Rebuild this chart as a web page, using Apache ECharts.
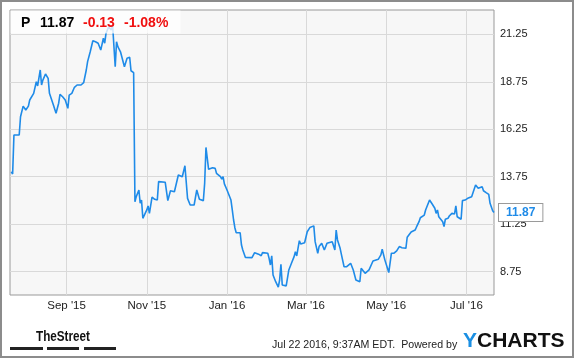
<!DOCTYPE html>
<html>
<head>
<meta charset="utf-8">
<script src="https://cdn.jsdelivr.net/npm/echarts@6/dist/echarts.min.js"></script>
<style>
html,body{margin:0;padding:0;background:#fff;}
#c{width:575px;height:358px;}
</style>
</head>
<body>
<div id="c"></div>
<script>
const dates = [
'2015-07-21','2015-07-22','2015-07-23','2015-07-27','2015-07-28','2015-07-29','2015-07-30','2015-08-01','2015-08-03','2015-08-04',
'2015-08-05','2015-08-07','2015-08-09','2015-08-10','2015-08-12','2015-08-13','2015-08-14','2015-08-16','2015-08-18','2015-08-19',
'2015-08-22','2015-08-24','2015-08-26','2015-08-27','2015-08-29','2015-08-31','2015-09-02','2015-09-03','2015-09-05','2015-09-07',
'2015-09-09','2015-09-10','2015-09-12','2015-09-14','2015-09-16','2015-09-17','2015-09-19','2015-09-21','2015-09-23','2015-09-25',
'2015-09-27','2015-09-29','2015-09-30','2015-10-01','2015-10-03','2015-10-05','2015-10-06','2015-10-08','2015-10-09','2015-10-10',
'2015-10-12','2015-10-13','2015-10-15','2015-10-17','2015-10-19','2015-10-20','2015-10-22','2015-10-23','2015-10-24','2015-10-26',
'2015-10-27','2015-10-28','2015-10-29','2015-11-01','2015-11-02','2015-11-03','2015-11-05','2015-11-07','2015-11-09','2015-11-10',
'2015-11-15','2015-11-17','2015-11-19','2015-11-22','2015-11-23','2015-11-25','2015-11-28','2015-11-30','2015-12-01','2015-12-02',
'2015-12-04','2015-12-07','2015-12-09','2015-12-10','2015-12-11','2015-12-14','2015-12-15','2015-12-16','2015-12-18','2015-12-21',
'2015-12-23','2015-12-24','2015-12-27','2015-12-28','2015-12-29','2015-12-30','2016-01-01','2016-01-04','2016-01-05','2016-01-06',
'2016-01-07','2016-01-08','2016-01-11','2016-01-12','2016-01-13','2016-01-15','2016-01-20','2016-01-22','2016-01-25','2016-01-26',
'2016-01-27','2016-01-28','2016-02-01','2016-02-02','2016-02-03','2016-02-04','2016-02-05','2016-02-07','2016-02-09','2016-02-10',
'2016-02-11','2016-02-12','2016-02-15','2016-02-16','2016-02-17','2016-02-18','2016-02-19','2016-02-21','2016-02-22','2016-02-23',
'2016-02-25','2016-02-26','2016-02-29','2016-03-02','2016-03-03','2016-03-04','2016-03-07','2016-03-08','2016-03-10','2016-03-11',
'2016-03-13','2016-03-14','2016-03-15','2016-03-17','2016-03-18','2016-03-21','2016-03-22','2016-03-23','2016-03-24','2016-03-25',
'2016-03-27','2016-03-28','2016-03-29','2016-03-30','2016-04-01','2016-04-04','2016-04-06','2016-04-08','2016-04-11','2016-04-12',
'2016-04-13','2016-04-15','2016-04-18','2016-04-19','2016-04-21','2016-04-25','2016-04-26','2016-04-27','2016-04-28','2016-04-30',
'2016-05-02','2016-05-03','2016-05-05','2016-05-07','2016-05-09','2016-05-11','2016-05-13','2016-05-16','2016-05-17','2016-05-18',
'2016-05-20','2016-05-23','2016-05-24','2016-05-26','2016-05-27','2016-05-30','2016-05-31','2016-06-03','2016-06-05','2016-06-07',
'2016-06-08','2016-06-09','2016-06-10','2016-06-13','2016-06-14','2016-06-15','2016-06-17','2016-06-18','2016-06-20','2016-06-22',
'2016-06-23','2016-06-24','2016-06-27','2016-06-28','2016-06-30','2016-07-02','2016-07-05','2016-07-06','2016-07-08','2016-07-10',
'2016-07-11','2016-07-13','2016-07-14','2016-07-16','2016-07-18','2016-07-19','2016-07-21','2016-07-22'
];
const prices = [
14.01,13.89,15.95,15.95,16.91,17.00,17.47,17.26,17.47,17.79,
17.79,18.14,18.75,18.53,19.37,18.58,18.84,19.16,18.93,18.14,
17.53,17.09,17.62,18.09,17.96,17.79,17.35,18.05,18.14,18.46,
18.58,18.53,18.58,18.70,19.37,19.81,20.33,20.91,20.86,20.78,
20.42,21.04,20.78,21.30,21.65,21.48,21.74,19.54,20.86,20.60,
20.33,20.25,19.54,19.99,20.04,19.33,19.23,12.43,12.70,13.05,
12.35,12.52,11.56,12.00,12.21,11.82,12.67,12.56,12.52,13.49,
13.46,12.49,13.01,12.96,12.91,13.84,13.75,14.33,14.31,12.61,
12.26,12.26,13.05,12.95,12.56,12.49,13.40,15.29,14.14,14.22,
14.19,13.93,13.75,13.63,13.75,13.37,13.05,12.52,12.00,11.47,
11.05,10.80,10.80,10.15,9.89,9.50,9.49,9.75,9.67,9.68,
9.59,9.75,9.72,9.45,9.10,9.58,8.57,8.22,7.93,8.31,
9.14,8.05,8.00,7.96,8.84,8.87,9.19,9.54,9.80,9.58,
10.38,10.21,10.27,10.85,10.89,11.07,11.16,10.33,9.72,10.07,
10.24,10.33,9.89,10.24,10.27,10.33,10.24,9.89,10.94,10.42,
9.98,9.65,9.58,9.01,9.01,9.19,8.84,8.31,8.22,8.93,
8.98,8.66,8.84,8.93,9.31,9.40,9.46,9.63,9.93,9.37,
8.93,8.70,9.72,9.72,9.84,10.07,10.01,9.98,10.56,10.59,
10.84,10.94,11.09,11.38,11.59,11.73,12.00,12.52,12.31,12.09,
11.82,12.00,11.64,11.38,11.12,11.51,11.56,11.68,11.82,11.79,
12.21,11.64,11.51,12.49,12.52,12.61,12.70,12.63,13.31,13.14,
13.10,13.22,13.01,12.91,12.82,12.35,11.96,11.87
];
const yTicks = [8.75, 11.25, 13.75, 16.25, 18.75, 21.25];
const xTicks = ['2015-09-01','2015-11-01','2016-01-01','2016-03-01','2016-05-01','2016-07-01'];
const xTickLabels = ["Sep '15","Nov '15","Jan '16","Mar '16","May '16","Jul '16"];
const xRange = ['2015-07-20', '2016-07-22'];
const header = {symbol: 'P', price: '11.87', change: '-0.13', pct: '-1.08%'};
const stamp = 'Jul 22 2016, 9:37AM EDT.  Powered by';

function toTime(s) {
  const p = s.split('-').map(Number);
  return new Date(p[0], p[1] - 1, p[2]).getTime();
}
const xTickTimes = xTicks.map(toTime);
const lineColor = '#1f8be8';
const chart = echarts.init(document.getElementById('c'), null, {renderer: 'canvas'});
const FONT = '"Liberation Sans", Arial, sans-serif';

function txt(x, y, text, font, fill, sx) {
  return {type: 'text', z: 101, x: x, y: y, scaleX: sx || 1,
    style: {x: 0, y: 0, text: text, font: font, fill: fill, verticalAlign: 'middle', align: 'left'}};
}

chart.setOption({
  animation: false,
  grid: {left: 10, top: 10, right: 81, bottom: 63, show: true, backgroundColor: '#f7f7f7', borderColor: '#999', borderWidth: 1},
  xAxis: {
    type: 'value',
    min: toTime(xRange[0]), max: toTime(xRange[1]),
    axisLine: {show: false},
    axisTick: {show: false, customValues: xTickTimes},
    splitLine: {show: true, lineStyle: {color: '#d9d9d9', width: 1}},
    axisLabel: {
      customValues: xTickTimes,
      margin: 5,
      color: '#222', fontSize: 11.5, fontFamily: FONT,
      formatter: function (v) {
        let best = 0;
        xTickTimes.forEach((t, i) => { if (Math.abs(t - v) < Math.abs(xTickTimes[best] - v)) best = i; });
        return xTickLabels[best];
      }
    }
  },
  yAxis: {
    type: 'value', position: 'right',
    min: 7.52, max: 22.53,
    axisLine: {show: false},
    axisTick: {show: false, customValues: yTicks},
    splitLine: {show: true, lineStyle: {color: '#d9d9d9', width: 1}},
    axisLabel: {
      customValues: yTicks,
      margin: 6, color: '#222', fontSize: 11, fontFamily: FONT,
      formatter: v => Number(v).toFixed(2)
    }
  },
  series: [{
    type: 'line',
    data: dates.map((d, i) => [toTime(d), prices[i]]),
    showSymbol: false,
    lineStyle: {color: lineColor, width: 1.6},
    z: 2,
    endLabel: {
      show: true,
      formatter: p => p.value[1].toFixed(2),
      color: lineColor, fontWeight: 'bold', fontSize: 12, fontFamily: FONT,
      backgroundColor: '#fff', borderColor: '#9a9a9a', borderWidth: 1,
      padding: [3, 7, 2, 7], distance: 5
    }
  }],
  graphic: [
    {type: 'rect', z: 100, shape: {x: 10.5, y: 10.5, width: 170, height: 23}, style: {fill: 'rgba(255,255,255,0.78)'}},
    txt(21, 23.5, header.symbol, 'bold 14px ' + FONT, '#000'),
    txt(40, 23.5, header.price, 'bold 14px ' + FONT, '#000'),
    txt(83, 23.5, header.change, 'bold 14px ' + FONT, '#f01010'),
    txt(124, 23.5, header.pct, 'bold 14px ' + FONT, '#f01010'),
    {type: 'rect', z: 100, shape: {x: 1, y: 1, width: 572, height: 356}, style: {fill: null, stroke: '#8c8c8c', lineWidth: 2}},
    txt(36, 336.5, 'TheStreet', 'bold 15px ' + FONT, '#111', 0.78),
    {type: 'rect', z: 101, shape: {x: 10, y: 347, width: 33, height: 3}, style: {fill: '#222'}},
    {type: 'rect', z: 101, shape: {x: 47, y: 347, width: 32, height: 3}, style: {fill: '#222'}},
    {type: 'rect', z: 101, shape: {x: 84, y: 347, width: 32, height: 3}, style: {fill: '#222'}},
    txt(272, 344.5, stamp, '11px ' + FONT, '#222', 0.965),
    txt(463, 341.5, 'Y', 'bold 21px ' + FONT, '#1a8fe3'),
    txt(477, 341.5, 'CHARTS', 'bold 21px ' + FONT, '#111')
  ]
});
</script>
</body>
</html>
